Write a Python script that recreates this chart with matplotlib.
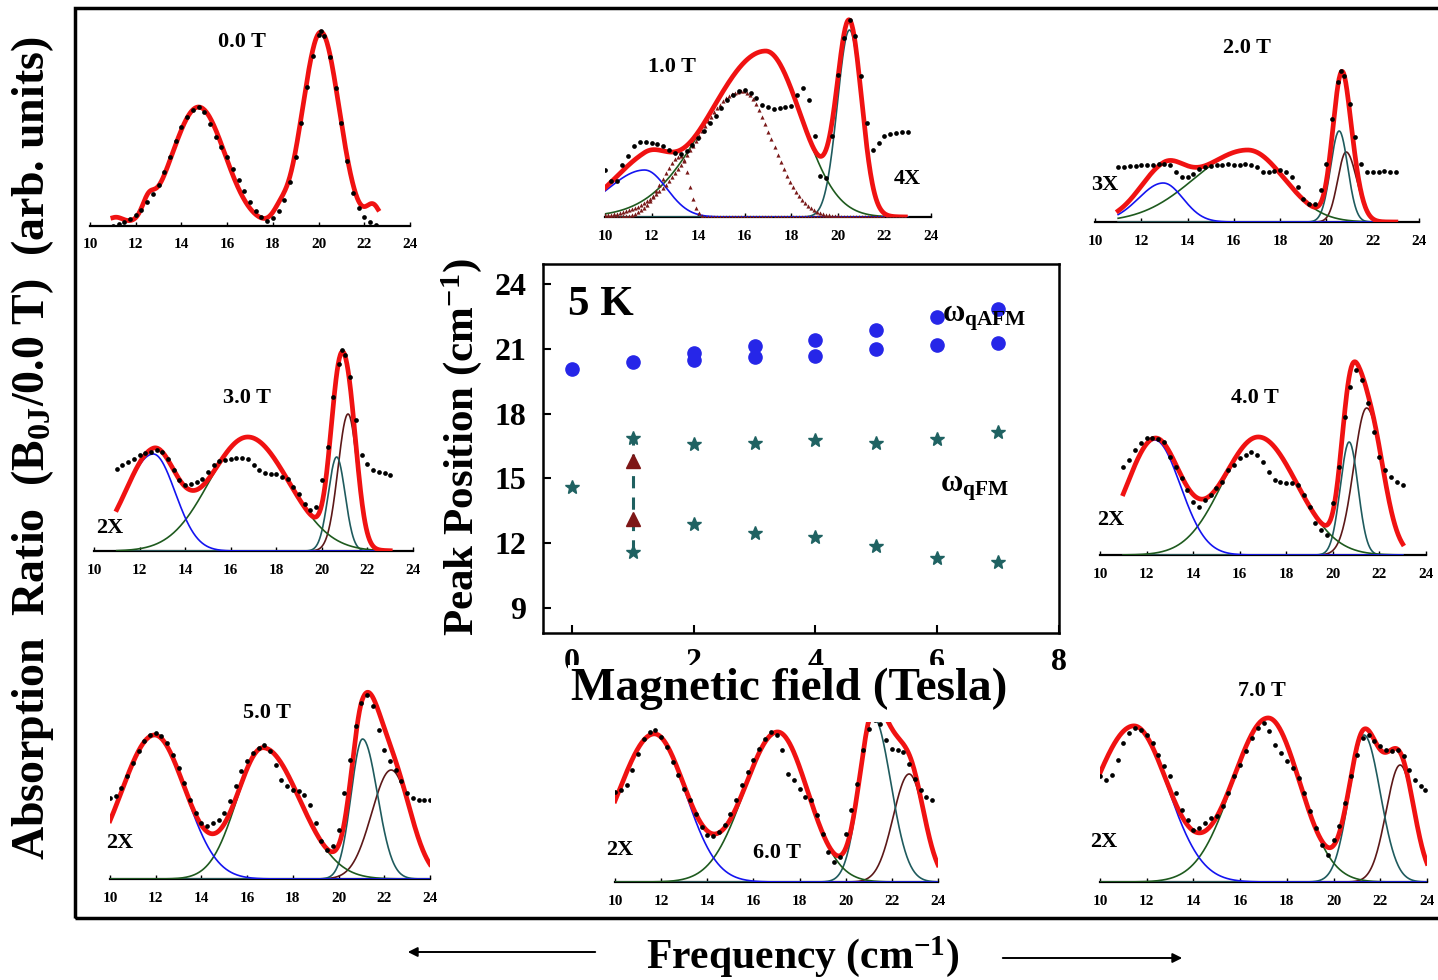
import matplotlib.pyplot as plt
import numpy as np
from matplotlib.patches import Rectangle, FancyArrowPatch

plt.rcParams['font.family'] = ['Liberation Serif', 'DejaVu Serif']
plt.rcParams['font.weight'] = 'bold'
plt.rcParams['mathtext.fontset'] = 'custom'
plt.rcParams['mathtext.rm'] = 'Liberation Serif:bold'
plt.rcParams['mathtext.bf'] = 'Liberation Serif:bold'
plt.rcParams['mathtext.it'] = 'Liberation Serif:italic:bold'

# ---- measured spectra (frequency cm-1, absorption ratio a.u.) ----
pts_0T = [(11.0, 0.0), (11.25, 0.2), (11.5, 0.4), (11.75, 0.7), (12.0, 1.1), (12.25, 1.6), (12.5, 2.4),
          (12.75, 3.2), (13.0, 4.1), (13.25, 5.4), (13.5, 6.9), (13.75, 8.5), (14.0, 9.9), (14.25, 10.9),
          (14.5, 11.6), (14.75, 11.9), (15.0, 11.4), (15.25, 10.2), (15.5, 8.9), (15.75, 7.9), (16.0, 6.9),
          (16.25, 5.7), (16.5, 4.6), (16.75, 3.5), (17.0, 2.4), (17.25, 1.5), (17.5, 0.9), (17.75, 0.45),
          (18.0, 0.8), (18.25, 1.5), (18.5, 2.6), (18.75, 4.4), (19.0, 6.9), (19.25, 10.3), (19.5, 13.9),
          (19.75, 17.0), (20.0, 19.1), (20.1, 19.5), (20.25, 19.0), (20.5, 16.9), (20.75, 13.8), (21.0, 10.3),
          (21.25, 6.5), (21.5, 3.3), (21.75, 1.8), (22.0, 0.9), (22.25, 0.4), (22.5, 0.1)]
pts_1T = [(10.0, 4.7), (10.25, 3.6), (10.5, 3.6), (10.75, 5.2), (11.0, 6.1), (11.25, 7.1), (11.5, 7.5),
          (11.75, 7.5), (12.0, 7.4), (12.25, 7.3), (12.5, 7.1), (12.75, 6.7), (13.0, 6.4), (13.25, 6.3),
          (13.5, 6.6), (13.75, 7.2), (14.0, 7.9), (14.25, 8.6), (14.5, 9.4), (14.75, 10.1), (15.0, 10.9),
          (15.25, 11.7), (15.5, 12.2), (15.75, 12.6), (16.0, 12.7), (16.25, 12.4), (16.5, 11.9), (16.75, 11.2),
          (17.0, 11.0), (17.25, 10.8), (17.5, 10.9), (17.75, 11.0), (18.0, 11.1), (18.25, 12.2), (18.5, 12.9),
          (18.75, 11.7), (19.0, 8.1), (19.25, 4.1), (19.5, 3.9), (19.75, 8.1), (20.0, 14.2), (20.25, 17.9),
          (20.5, 19.7), (20.75, 18.1), (21.0, 14.1), (21.25, 9.4), (21.5, 6.7), (21.75, 7.4), (22.0, 8.1),
          (22.25, 8.3), (22.5, 8.4), (22.75, 8.5), (23.0, 8.5)]
pts_2T = [(11.0, 5.5), (11.25, 5.5), (11.5, 5.6), (11.75, 5.6), (12.0, 5.7), (12.25, 5.7), (12.5, 5.7),
          (12.75, 5.8), (13.0, 5.8), (13.25, 5.7), (13.5, 5.0), (13.75, 4.5), (14.0, 4.5), (14.25, 4.8),
          (14.5, 5.3), (14.75, 5.5), (15.0, 5.6), (15.25, 5.7), (15.5, 5.7), (15.75, 5.8), (16.0, 5.7),
          (16.25, 5.7), (16.5, 5.8), (16.75, 5.7), (17.0, 5.5), (17.25, 5.0), (17.5, 5.0), (17.75, 5.1),
          (18.0, 5.2), (18.25, 5.0), (18.5, 4.5), (18.75, 3.5), (19.0, 2.3), (19.25, 1.8), (19.5, 1.8),
          (19.75, 3.2), (20.0, 5.8), (20.25, 10.3), (20.5, 14.0), (20.65, 15.1), (20.75, 14.6), (21.0, 11.8),
          (21.25, 8.5), (21.5, 5.8), (21.75, 5.0), (22.0, 5.0), (22.25, 5.0), (22.5, 5.1), (22.75, 5.0),
          (23.0, 5.0)]
pts_3T = [(11.0, 8.2), (11.25, 8.6), (11.5, 8.9), (11.75, 9.2), (12.0, 9.6), (12.25, 9.8), (12.5, 9.9),
          (12.75, 10.1), (13.0, 9.9), (13.25, 9.2), (13.5, 8.1), (13.75, 7.1), (14.0, 6.6), (14.25, 6.7),
          (14.5, 6.9), (14.75, 7.2), (15.0, 7.9), (15.25, 8.6), (15.5, 9.0), (15.75, 9.1), (16.0, 9.2),
          (16.25, 9.3), (16.5, 9.3), (16.75, 9.2), (17.0, 8.6), (17.25, 8.1), (17.5, 7.8), (17.75, 7.7),
          (18.0, 7.7), (18.25, 7.4), (18.5, 7.2), (18.75, 6.4), (19.0, 5.7), (19.25, 4.7), (19.5, 4.1),
          (19.75, 4.4), (20.0, 7.1), (20.25, 10.4), (20.5, 15.4), (20.75, 18.7), (20.9, 20.1), (21.0, 19.6),
          (21.25, 17.4), (21.5, 13.1), (21.75, 9.6), (22.0, 8.7), (22.25, 8.1), (22.5, 7.9), (22.75, 7.8),
          (23.0, 7.6)]
pts_4T = [(11.0, 8.8), (11.25, 9.5), (11.5, 10.5), (11.75, 11.2), (12.0, 11.7), (12.25, 11.7), (12.5, 11.6),
          (12.75, 11.3), (13.0, 9.8), (13.25, 8.8), (13.5, 7.7), (13.75, 6.5), (14.0, 5.3), (14.25, 4.8),
          (14.5, 5.5), (14.75, 6.0), (15.0, 6.7), (15.25, 7.3), (15.5, 8.5), (15.75, 9.0), (16.0, 9.7),
          (16.25, 10.0), (16.5, 10.3), (16.75, 10.0), (17.0, 9.3), (17.25, 8.3), (17.5, 7.5), (17.75, 7.3),
          (18.0, 7.2), (18.25, 7.2), (18.5, 7.0), (18.75, 6.0), (19.0, 4.8), (19.25, 3.2), (19.5, 2.5),
          (19.75, 2.0), (20.0, 5.2), (20.25, 8.8), (20.5, 13.8), (20.75, 16.8), (21.0, 18.5), (21.25, 17.5),
          (21.5, 15.2), (21.75, 12.3), (22.0, 9.8), (22.25, 8.5), (22.5, 7.8), (22.75, 7.3), (23.0, 7.0)]
pts_5T = [(10.0, 8.1), (10.25, 8.3), (10.5, 9.1), (10.75, 10.3), (11.0, 11.6), (11.25, 12.8), (11.5, 13.8),
          (11.75, 14.4), (12.0, 14.6), (12.25, 14.3), (12.5, 13.6), (12.75, 12.4), (13.0, 11.1), (13.25, 9.6),
          (13.5, 7.9), (13.75, 6.6), (14.0, 5.6), (14.25, 5.3), (14.5, 5.6), (14.75, 5.9), (15.0, 6.6),
          (15.25, 7.8), (15.5, 9.3), (15.75, 10.8), (16.0, 11.8), (16.25, 12.6), (16.5, 13.1), (16.75, 13.4),
          (17.0, 12.8), (17.25, 11.4), (17.5, 9.9), (17.75, 9.3), (18.0, 8.9), (18.25, 8.8), (18.5, 8.4),
          (18.75, 7.4), (19.0, 5.6), (19.25, 3.8), (19.5, 2.9), (19.75, 3.3), (20.0, 4.9), (20.25, 8.6),
          (20.5, 11.9), (20.75, 15.3), (21.0, 17.6), (21.25, 18.4), (21.5, 17.3), (21.75, 14.9), (22.0, 12.9),
          (22.25, 11.8), (22.5, 10.9), (22.75, 9.8), (23.0, 8.6), (23.25, 8.1), (23.5, 7.9), (23.75, 7.9),
          (24.0, 7.9)]
pts_6T = [(10.0, 9.0), (10.25, 9.2), (10.5, 9.7), (10.75, 11.2), (11.0, 12.8), (11.25, 14.3), (11.5, 15.0),
          (11.75, 15.2), (12.0, 14.5), (12.25, 13.5), (12.5, 12.0), (12.75, 10.7), (13.0, 9.3), (13.25, 8.2),
          (13.5, 6.8), (13.75, 5.5), (14.0, 4.7), (14.25, 4.6), (14.5, 5.0), (14.75, 5.7), (15.0, 6.8),
          (15.25, 8.2), (15.5, 9.7), (15.75, 11.0), (16.0, 12.2), (16.25, 13.3), (16.5, 14.3), (16.75, 15.0),
          (17.0, 14.7), (17.25, 13.2), (17.5, 10.8), (17.75, 10.2), (18.0, 9.3), (18.25, 8.5), (18.5, 8.2),
          (18.75, 6.7), (19.0, 4.8), (19.25, 3.0), (19.5, 2.0), (19.75, 2.5), (20.0, 4.8), (20.25, 7.2),
          (20.5, 9.8), (20.75, 13.2), (21.0, 15.3), (21.25, 16.2), (21.5, 15.8), (21.75, 14.2), (22.0, 13.3),
          (22.25, 13.2), (22.5, 13.0), (22.75, 11.8), (23.0, 10.3), (23.25, 9.2), (23.5, 8.5), (23.75, 8.2)]
pts_7T = [(10.0, 10.6), (10.25, 10.2), (10.5, 10.7), (10.75, 12.2), (11.0, 13.9), (11.25, 14.9), (11.5, 15.4),
          (11.75, 15.2), (12.0, 14.7), (12.25, 13.9), (12.5, 12.7), (12.75, 11.6), (13.0, 10.6), (13.25, 8.9),
          (13.5, 7.2), (13.75, 6.2), (14.0, 5.2), (14.25, 5.4), (14.5, 5.9), (14.75, 6.4), (15.0, 6.6),
          (15.25, 7.6), (15.5, 8.9), (15.75, 10.6), (16.0, 11.7), (16.25, 13.1), (16.5, 14.4), (16.75, 15.4),
          (17.0, 15.9), (17.25, 15.1), (17.5, 13.7), (17.75, 12.9), (18.0, 12.1), (18.25, 11.4), (18.5, 10.4),
          (18.75, 8.9), (19.0, 7.1), (19.25, 5.4), (19.5, 3.7), (19.75, 2.7), (20.0, 4.2), (20.25, 5.6),
          (20.5, 7.9), (20.75, 10.6), (21.0, 12.7), (21.25, 14.4), (21.5, 14.7), (21.75, 14.1), (22.0, 13.6),
          (22.25, 13.2), (22.5, 13.1), (22.75, 13.2), (23.0, 12.6), (23.25, 11.2), (23.5, 10.2), (23.75, 9.6),
          (23.9, 9.2)]

# ---- fitted peaks: (centre cm-1, height, width left, width right) ----
# order: blue, green, teal, brown
fit_0T = [(14.75, 11.9, 1.15, 1.15), (20.1, 19.4, 0.8, 0.8), (12.55, 1.4, 0.25, 0.25),
          (22.4, 1.9, 0.3, 0.3), (11.1, 0.8, 0.35, 0.35), (18.3, 0.9, 0.3, 0.3)]
fit_1T = [(11.7, 4.7, 1.56, 0.95), (16.9, 16.6, 2.45, 1.52), (20.5, 18.7, 0.52, 0.52)]
tri_1T = [(15.9, 12.6, 2.0, 1.27), (13.25, 6.1, 0.8, 0.33)]
fit_2T = [(12.95, 3.9, 1.07, 0.85), (16.6, 7.2, 2.3, 1.57), (20.55, 9.1, 0.37, 0.37), (20.85, 7.0, 0.36, 0.46)]
fit_3T = [(12.6, 9.7, 1.22, 0.96), (16.75, 11.4, 1.7, 1.8), (20.65, 9.4, 0.37, 0.37), (21.15, 13.7, 0.44, 0.41)]
fit_4T = [(12.35, 11.5, 1.2, 1.1), (16.8, 11.8, 1.55, 1.65), (20.7, 11.3, 0.38, 0.38), (21.45, 14.7, 0.55, 0.68)]
fit_5T = [(11.95, 14.4, 1.45, 1.35), (16.7, 13.1, 1.15, 1.6), (21.05, 14.0, 0.5, 0.65), (22.3, 10.9, 0.85, 0.85)]
fit_6T = [(11.7, 14.8, 1.55, 1.35), (17.05, 15.0, 1.45, 1.3), (21.2, 16.5, 0.6, 0.75), (22.75, 10.8, 0.69, 0.65)]
fit_7T = [(11.45, 15.6, 1.71, 1.45), (17.2, 16.4, 1.52, 1.35), (21.3, 14.7, 0.63, 0.7), (22.85, 11.7, 0.6, 0.6)]

# ---- inset: peak position vs field ----
field_afm1 = [0, 1, 2, 3, 4, 5, 6, 7]
afm1 = [20.09, 20.41, 20.80, 21.11, 21.42, 21.89, 22.48, 22.83]
field_afm2 = [2, 3, 4, 5, 6, 7]
afm2 = [20.48, 20.61, 20.69, 20.98, 21.19, 21.27]
field_fm1 = [0, 1, 2, 3, 4, 5, 6, 7]
fm1 = [14.58, 16.89, 16.58, 16.66, 16.77, 16.66, 16.81, 17.13]
field_fm2 = [1, 2, 3, 4, 5, 6, 7]
fm2 = [11.61, 12.91, 12.48, 12.28, 11.89, 11.30, 11.11]
field_tri = [1, 1]
tri_pos = [15.8, 13.14]

W, H = 1438, 980
RED = '#f01212'
COMP_COLORS = ['#1414f0', '#1e5a1e', '#1f5b5e', '#5c1818']
DRAW_ORDER = [3, 2, 1, 0]


def split_gauss(x, c, h, sl, sr):
    s = np.where(x < c, sl, sr)
    return h * np.exp(-(x - c) ** 2 / (2 * s ** 2))


fig = plt.figure(figsize=(W / 100, H / 100), dpi=100)


def ftext(x, y, s, **kw):
    return fig.text(x / W, 1 - y / H, s, **kw)


def panel(x10, x24, base, ytop, pts, fit, fit_rng, comp_rng, draw_comps=True):
    ax = fig.add_axes([x10 / W, 1 - base / H, (x24 - x10) / W, ytop * 10 / H])
    ax.set_xlim(10, 24)
    ax.set_ylim(0, ytop)
    ax.patch.set_visible(False)
    for s in ['left', 'right', 'top']:
        ax.spines[s].set_visible(False)
    ax.spines['bottom'].set_linewidth(1.6)
    ax.set_yticks([])
    ax.set_xticks(range(10, 25, 2))
    ax.tick_params(axis='x', length=3, width=1, direction='in', labelsize=11, pad=9)
    xs = np.linspace(fit_rng[0], fit_rng[1], 500)
    total = np.zeros_like(xs)
    for c in fit:
        total += split_gauss(xs, *c)
    if draw_comps:
        xc = np.linspace(comp_rng[0], comp_rng[1], 500)
        for i in DRAW_ORDER:
            if i < len(fit):
                ax.plot(xc, split_gauss(xc, *fit[i]), color=COMP_COLORS[i], lw=1.2, zorder=3)
    ax.plot(xs, total, color=RED, lw=3.4, zorder=4)
    x, y = zip(*pts)
    ax.plot(x, y, 'o', ms=3.4, color='black', mec='none', zorder=5)
    return ax


panel(90, 410, 226, 22, pts_0T, fit_0T, (11.0, 22.6), None, draw_comps=False)
ax1 = panel(605, 931, 217, 22, pts_1T, fit_1T, (10.0, 22.9), (10.0, 23.0))
xt = np.arange(10.0, 23.0, 0.13)
for c in tri_1T:
    ax1.plot(xt, split_gauss(xt, *c), '^', ms=3.0, color='#7a1a1a', mec='none', zorder=3.5)
panel(1095, 1419, 222, 22, pts_2T, fit_2T, (11.0, 23.0), (11.0, 23.0))
panel(94, 413, 551, 22, pts_3T, fit_3T, (11.0, 23.0), (11.0, 23.0))
panel(1100, 1426, 555, 22, pts_4T, fit_4T, (11.0, 23.0), (11.0, 23.0))
panel(110, 430, 879, 22, pts_5T, fit_5T, (10.0, 24.0), (10.0, 24.0))
panel(615, 938, 882, 16, pts_6T, fit_6T, (10.0, 24.0), (10.0, 24.0))
panel(1100, 1427, 882, 22, pts_7T, fit_7T, (10.0, 24.0), (10.0, 24.0))

for (x, y, s) in [(242, 42, '0.0 T'), (672, 67, '1.0 T'), (1247, 48, '2.0 T'), (247, 398, '3.0 T'),
                  (1255, 398, '4.0 T'), (267, 713, '5.0 T'), (777, 853, '6.0 T'), (1262, 691, '7.0 T'),
                  (907, 179, '4X'), (1105, 185, '3X'), (110, 528, '2X'), (1111, 520, '2X'),
                  (120, 843, '2X'), (620, 850, '2X'), (1104, 842, '2X')]:
    ftext(x, y, s, fontsize=16, ha='center', va='center')

# ---- inset ----
L, R, T, B = 543, 1059, 264, 633
axi = fig.add_axes([L / W, 1 - B / H, (R - L) / W, (B - T) / H])
axi.set_xlim(-0.475, 7.98)
axi.set_ylim(7.84, 24.93)
for s in axi.spines.values():
    s.set_linewidth(1.8)
axi.set_xticks([0, 2, 4, 6, 8])
axi.set_yticks([9, 12, 15, 18, 21, 24])
axi.tick_params(axis='both', direction='in', length=6, width=1.5, labelsize=23)
axi.tick_params(axis='x', pad=11)
axi.tick_params(axis='y', pad=12)
axi.plot([field_fm2[0], field_fm1[1]], [fm2[0], fm1[1]], ls=(0, (4, 3)), color='#1f6060', lw=2.2, zorder=2)
axi.plot(field_afm1, afm1, 'o', ms=9.5, color='#2626e8', zorder=3)
axi.plot(field_afm2, afm2, 'o', ms=9.5, color='#2626e8', zorder=3)
axi.plot(field_fm1, fm1, '*', ms=10, color='#1f6262', zorder=3)
axi.plot(field_fm2, fm2, '*', ms=10, color='#1f6262', zorder=3)
axi.plot(field_tri, tri_pos, '^', ms=10, color='#7e1616', zorder=4)

ftext(568, 305, '5 K', fontsize=31, ha='left', va='center')
ftext(942, 318, 'ω$_{\\mathrm{qAFM}}$', fontsize=22, ha='left', va='center')
ftext(940, 488, 'ω$_{\\mathrm{qFM}}$', fontsize=22, ha='left', va='center')
ftext(462, 447, 'Peak Position (cm$^{-1}$)', fontsize=31, rotation=90, ha='center', va='center')
ftext(789, 700, 'Magnetic field (Tesla)', fontsize=34, ha='center', va='baseline',
      bbox=dict(boxstyle='square,pad=0.05', fc='white', ec='none'), zorder=10)

# ---- outer labels and frame ----
ftext(33, 448, 'Absorption  Ratio  (B$_{\\mathrm{0J}}$/0.0 T)  (arb. units)', fontsize=33, rotation=90,
      ha='center', va='center')
ftext(803, 968, 'Frequency (cm$^{-1}$)', fontsize=30, ha='center', va='baseline')
fig.add_artist(Rectangle((75 / W, 1 - 918 / H), (1445 - 75) / W, (918 - 8) / H, transform=fig.transFigure,
                         fill=False, lw=2.5, ec='black'))
fig.add_artist(FancyArrowPatch((598 / W, 1 - 952 / H), (405 / W, 1 - 952 / H), transform=fig.transFigure,
                               arrowstyle='-|>', mutation_scale=14, lw=1.4, color='black'))
fig.add_artist(FancyArrowPatch((1000 / W, 1 - 958 / H), (1185 / W, 1 - 958 / H), transform=fig.transFigure,
                               arrowstyle='-|>', mutation_scale=14, lw=1.4, color='black'))

fig.savefig('out.png', dpi=100)
